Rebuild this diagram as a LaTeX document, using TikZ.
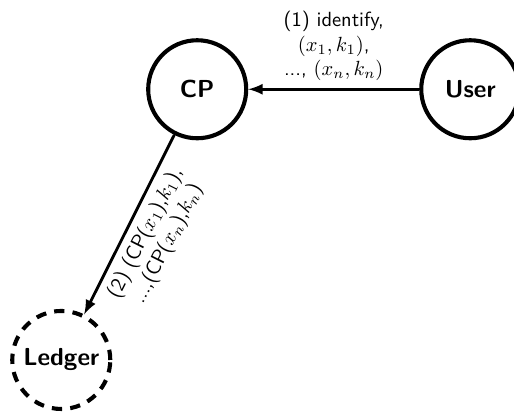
\documentclass[tikz,border=0pt]{standalone}
\usepackage{amsmath}
\begin{document}
\begin{tikzpicture}[
    font=\sffamily,
    party/.style={circle, draw, line width=2pt, minimum size=1.68cm, font=\sffamily\large\bfseries},
    msg/.style={line width=1.4pt, -latex}
  ]
            % 图片边界
            \useasboundingbox (0,0) rectangle (8.81,-7.17);

            % 三个参与方
            \node[party] (cp) at (3.38,-1.53) {CP};
            \node[party] (user) at (8.06,-1.53) {User};
            \node[party, dash pattern=on 5pt off 4pt] (ledger) at (1.05,-6.17) {Ledger};

            % (1) 用户发给 CP
            \draw[msg] (user) -- node[above, align=center] {(1) identify,\\ $(x_1,k_1)$,\\ ..., $(x_n,k_n)$} (cp);

            % (2) CP 写入账本
            \draw[msg] (cp) -- node[below, sloped, align=center] {(2) (CP($x_1$),$k_1$),\\ ...,(CP($x_n$),$k_n$)} (ledger);
        \end{tikzpicture}
\end{document}
